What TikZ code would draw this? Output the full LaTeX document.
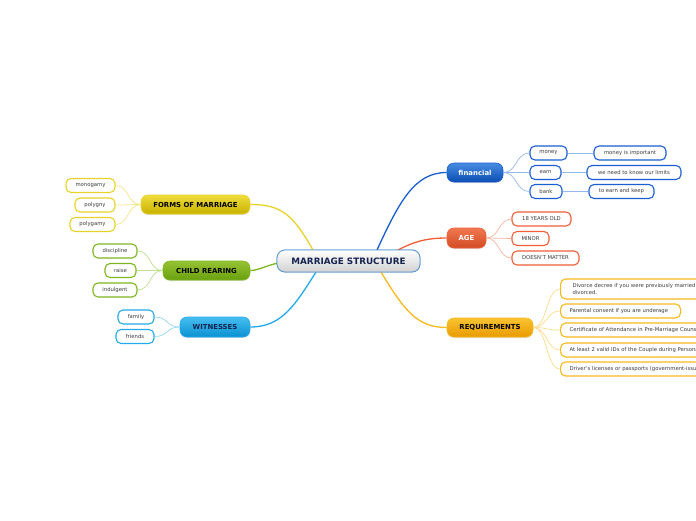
\documentclass[tikz,border=0pt]{standalone}
\usepackage{fontspec}
\setmainfont{DejaVu Sans}
\usetikzlibrary{shadows}
\definecolor{finTop}{RGB}{70,140,225}
\definecolor{finBot}{RGB}{12,78,180}
\definecolor{finLine}{RGB}{25,95,210}
\definecolor{finLight}{RGB}{150,185,235}
\definecolor{ageTop}{RGB}{240,120,80}
\definecolor{ageBot}{RGB}{210,75,35}
\definecolor{ageLine}{RGB}{240,95,55}
\definecolor{ageLight}{RGB}{248,180,160}
\definecolor{reqTop}{RGB}{250,195,50}
\definecolor{reqBot}{RGB}{232,155,0}
\definecolor{reqLine}{RGB}{248,185,30}
\definecolor{reqLight}{RGB}{252,220,140}
\definecolor{forTop}{RGB}{240,220,60}
\definecolor{forBot}{RGB}{200,178,0}
\definecolor{forLine}{RGB}{232,210,40}
\definecolor{forLight}{RGB}{242,230,140}
\definecolor{chiTop}{RGB}{150,195,50}
\definecolor{chiBot}{RGB}{105,160,15}
\definecolor{chiLine}{RGB}{125,182,30}
\definecolor{chiLight}{RGB}{190,222,140}
\definecolor{witTop}{RGB}{70,190,240}
\definecolor{witBot}{RGB}{10,145,210}
\definecolor{witLine}{RGB}{35,170,235}
\definecolor{witLight}{RGB}{150,215,245}
\definecolor{cenBorder}{RGB}{90,150,210}
\definecolor{cenText}{RGB}{20,35,80}
\definecolor{leafText}{RGB}{60,60,60}
\tikzset{
  central/.style={draw=cenBorder, line width=0.8pt, rounded corners=8pt, top color=white, bottom color=black!18,
    minimum width=143pt, minimum height=22pt, inner sep=0pt, text=cenText,
    font=\bfseries\fontsize{8.8}{10}\selectfont},
  branch/.style={rounded corners=7pt, minimum height=19pt, inner sep=0pt, line width=0.6pt,
    font=\bfseries\fontsize{6.9}{8}\selectfont,
    drop shadow={shadow xshift=0pt, shadow yshift=-1pt, opacity=0.25}},
  leaf/.style={draw, fill=white, rounded corners=5pt, line width=1.1pt, minimum height=14pt,
    inner sep=0pt, text=leafText, font=\fontsize{5.3}{6.4}\selectfont},
  mainlink/.style={line width=1.3pt},
  leaflink/.style={line width=0.7pt},
}
\begin{document}
\begin{tikzpicture}[x=1pt,y=-1pt]
\useasboundingbox (0,0) rectangle (696,520);
\fill[white] (0,0) rectangle (696,520);
\clip (0,0) rectangle (696,520);

% central
\node[central] (cen) at (348.5,261) {MARRIAGE STRUCTURE};

% branches
\node[branch, draw=finLine, top color=finTop, bottom color=finBot, text=white, minimum width=56pt] (fin) at (475,172.5) {financial};
\node[branch, draw=ageLine, top color=ageTop, bottom color=ageBot, text=white, minimum width=39pt, minimum height=20pt] (age) at (466.5,238) {AGE};
\node[branch, draw=reqLine, top color=reqTop, bottom color=reqBot, text=black, minimum width=86pt] (req) at (490,327.5) {REQUIREMENTS};
\node[branch, draw=forLine, top color=forTop, bottom color=forBot, text=black, minimum width=109pt] (for) at (195.5,204.5) {FORMS OF MARRIAGE};
\node[branch, draw=chiLine, top color=chiTop, bottom color=chiBot, text=black, minimum width=87pt] (chi) at (206.5,270.5) {CHILD REARING};
\node[branch, draw=witLine, top color=witTop, bottom color=witBot, text=cenText, minimum width=70pt, minimum height=20pt] (wit) at (215,327) {WITNESSES};

% main links
\coordinate (cfin) at (377,250);
\coordinate (cage) at (398,250);
\coordinate (creq) at (381,272);
\coordinate (cfor) at (313,250);
\coordinate (cchi) at (278,263);
\coordinate (cwit) at (316,272);
\draw[mainlink, finLine] (cfin) .. controls (400,200) and (415,172.5) .. (fin.west);
\draw[mainlink, ageLine] (cage) .. controls (415,241) and (428,238) .. (age.west);
\draw[mainlink, reqLine] (creq) .. controls (405,312) and (418,327.5) .. (req.west);
\draw[mainlink, forLine] (cfor) .. controls (293,215) and (282,204.5) .. (for.east);
\draw[mainlink, chiLine] (cchi) .. controls (265,266) and (258,270.5) .. (chi.east);
\draw[mainlink, witLine] (cwit) .. controls (295,305) and (282,327) .. (wit.east);
% redraw central on top of its links
\node[central] at (348.5,261) {MARRIAGE STRUCTURE};

% financial leaves
\node[leaf, draw=finLine, minimum width=37pt] (money) at (548.5,153) {money};
\node[leaf, draw=finLine, minimum width=31pt] (earn) at (545.5,172.5) {earn};
\node[leaf, draw=finLine, minimum width=32pt] (bank) at (546,191.5) {bank};
\node[leaf, draw=finLine, minimum width=72pt] (mimp) at (630,153) {money is important};
\node[leaf, draw=finLine, minimum width=94pt] (limits) at (634,172.5) {we need to know our limits};
\node[leaf, draw=finLine, minimum width=65pt] (keep) at (621.5,191.5) {to earn and keep};
\foreach \n in {money,earn,bank}
  \draw[leaflink, finLight] (fin.east) .. controls +(14,0) and +(-14,0) .. (\n.west);
\draw[leaflink, finLight] (money.east) -- (mimp.west);
\draw[leaflink, finLight] (earn.east) -- (limits.west);
\draw[leaflink, finLight] (bank.east) -- (keep.west);

% age leaves
\node[leaf, draw=ageLine, minimum width=59pt] (y18) at (541.5,219) {18 YEARS OLD};
\node[leaf, draw=ageLine, minimum width=37pt] (minor) at (530.5,238.5) {MINOR};
\node[leaf, draw=ageLine, minimum width=67pt] (dm) at (545.5,258) {DOESN'T MATTER};
\foreach \n in {y18,minor,dm}
  \draw[leaflink, ageLight] (age.east) .. controls +(13,0) and +(-13,0) .. (\n.west);

% requirements leaves
\tikzset{rleaf/.style={leaf, draw=reqLine, anchor=west, align=left, inner xsep=9pt}}
\node[rleaf, text width=175pt, minimum height=20pt, inner xsep=12pt] (r1) at (560,289)
  {Divorce decree if you were previously married and\\divorced.};
\node[rleaf, text width=102pt] (r2) at (560,311) {Parental consent if you are underage};
\node[rleaf, text width=210pt] (r3) at (560,330) {Certificate of Attendance in Pre-Marriage Counseling};
\node[rleaf, text width=210pt] (r4) at (560,350) {At least 2 valid IDs of the Couple during Personal Appearance};
\node[rleaf, text width=210pt] (r5) at (560,369) {Driver's licenses or passports (government-issued IDs)};
\foreach \n in {r1,r2,r3,r4,r5}
  \draw[leaflink, reqLight] (req.east) .. controls +(14,0) and +(-14,0) .. (\n.west);

% forms leaves
\node[leaf, draw=forLine, minimum width=49pt] (mono) at (90.5,185.5) {monogamy};
\node[leaf, draw=forLine, minimum width=40pt] (pgny) at (95,205) {polygny};
\node[leaf, draw=forLine, minimum width=45pt] (pgmy) at (92.5,224.5) {polygamy};
\foreach \n in {mono,pgny,pgmy}
  \draw[leaflink, forLight] (for.west) .. controls +(-14,0) and +(14,0) .. (\n.east);

% child leaves
\node[leaf, draw=chiLine, minimum width=44pt] (disc) at (115,251) {discipline};
\node[leaf, draw=chiLine, minimum width=31pt] (raise) at (120.5,270.5) {raise};
\node[leaf, draw=chiLine, minimum width=44pt] (indu) at (115,290) {indulgent};
\foreach \n in {disc,raise,indu}
  \draw[leaflink, chiLight] (chi.west) .. controls +(-14,0) and +(14,0) .. (\n.east);

% witnesses leaves
\node[leaf, draw=witLine, minimum width=36pt] (fam) at (136,317) {family};
\node[leaf, draw=witLine, minimum width=38pt] (fri) at (135,336.5) {friends};
\foreach \n in {fam,fri}
  \draw[leaflink, witLight] (wit.west) .. controls +(-14,0) and +(14,0) .. (\n.east);
\end{tikzpicture}
\end{document}
